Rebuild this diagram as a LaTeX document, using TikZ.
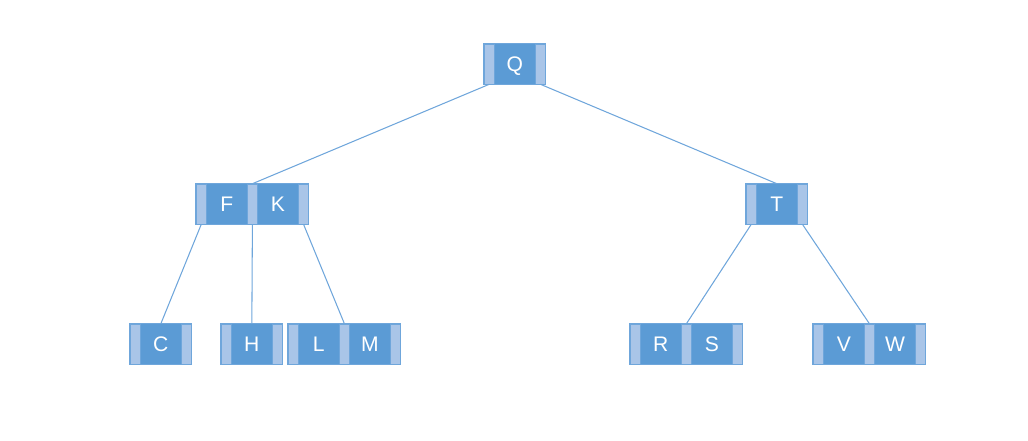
\documentclass[tikz,border=0pt]{standalone}
\usepackage{fontspec}
\setmainfont{Liberation Sans}
\usetikzlibrary{positioning}
\definecolor{keyblue}{HTML}{5B9BD5}
\definecolor{ptrblue}{HTML}{A9C5E8}
\definecolor{lineblue}{HTML}{6FA6DB}
\begin{document}
\begin{tikzpicture}[node distance=0pt,>=latex]
\tikzset{
  key/.style={fill=keyblue,text=white,shape=rectangle,inner sep=0pt,minimum width=1cm,minimum height=1cm,text height=10.7pt,text depth=0pt,font=\fontsize{15}{18}\selectfont},
  ptr/.style={draw=lineblue,fill=ptrblue,shape=rectangle,inner sep=0pt,minimum width=0.25cm,minimum height=1cm},
  frame/.style={draw=lineblue,line width=0.75pt},
  link/.style={draw=lineblue,line width=0.75pt}
}
\useasboundingbox (0,0) rectangle (25.7,-11);
% root
\node[ptr,anchor=west] (qp0) at (12.1,-1.6) {};
\node[key,right=of qp0] (qk1) {Q};
\node[ptr,right=of qk1] (qp1) {};
\draw[frame] (qp0.west |- qk1.north) rectangle (qp1.east |- qk1.south);
% second level
\node[ptr,anchor=west] (fkp0) at (4.9,-5.1) {};
\node[key,right=of fkp0] (fkk1) {F};
\node[ptr,right=of fkk1] (fkp1) {};
\node[key,right=of fkp1] (fkk2) {K};
\node[ptr,right=of fkk2] (fkp2) {};
\draw[frame] (fkp0.west |- fkk1.north) rectangle (fkp2.east |- fkk1.south);
\node[ptr,anchor=west] (tp0) at (18.65,-5.1) {};
\node[key,right=of tp0] (tk1) {T};
\node[ptr,right=of tk1] (tp1) {};
\draw[frame] (tp0.west |- tk1.north) rectangle (tp1.east |- tk1.south);
% leaves
\node[ptr,anchor=west] (cp0) at (3.25,-8.6) {};
\node[key,right=of cp0] (ck1) {C};
\node[ptr,right=of ck1] (cp1) {};
\draw[frame] (cp0.west |- ck1.north) rectangle (cp1.east |- ck1.south);
\node[ptr,anchor=west] (hp0) at (5.525,-8.6) {};
\node[key,right=of hp0] (hk1) {H};
\node[ptr,right=of hk1] (hp1) {};
\draw[frame] (hp0.west |- hk1.north) rectangle (hp1.east |- hk1.south);
\node[ptr,anchor=west] (lmp0) at (7.2,-8.6) {};
\node[key,right=of lmp0] (lmk1) {L};
\node[ptr,right=of lmk1] (lmp1) {};
\node[key,right=of lmp1] (lmk2) {M};
\node[ptr,right=of lmk2] (lmp2) {};
\draw[frame] (lmp0.west |- lmk1.north) rectangle (lmp2.east |- lmk1.south);
\node[ptr,anchor=west] (rsp0) at (15.75,-8.6) {};
\node[key,right=of rsp0] (rsk1) {R};
\node[ptr,right=of rsk1] (rsp1) {};
\node[key,right=of rsp1] (rsk2) {S};
\node[ptr,right=of rsk2] (rsp2) {};
\draw[frame] (rsp0.west |- rsk1.north) rectangle (rsp2.east |- rsk1.south);
\node[ptr,anchor=west] (vwp0) at (20.325,-8.6) {};
\node[key,right=of vwp0] (vwk1) {V};
\node[ptr,right=of vwk1] (vwp1) {};
\node[key,right=of vwp1] (vwk2) {W};
\node[ptr,right=of vwk2] (vwp2) {};
\draw[frame] (vwp0.west |- vwk1.north) rectangle (vwp2.east |- vwk1.south);
% links
\draw[link] (qp0.south) -- (fkp1.north);
\draw[link] (qp1.south) -- (tk1.north);
\draw[link] (fkp0.south) -- (ck1.north);
\draw[link] (fkp1.south) -- (hk1.north);
\draw[link] (fkp2.south) -- (lmp1.north);
\draw[link] (tp0.south) -- (rsp1.north);
\draw[link] (tp1.south) -- (vwp1.north);
\end{tikzpicture}
\end{document}
